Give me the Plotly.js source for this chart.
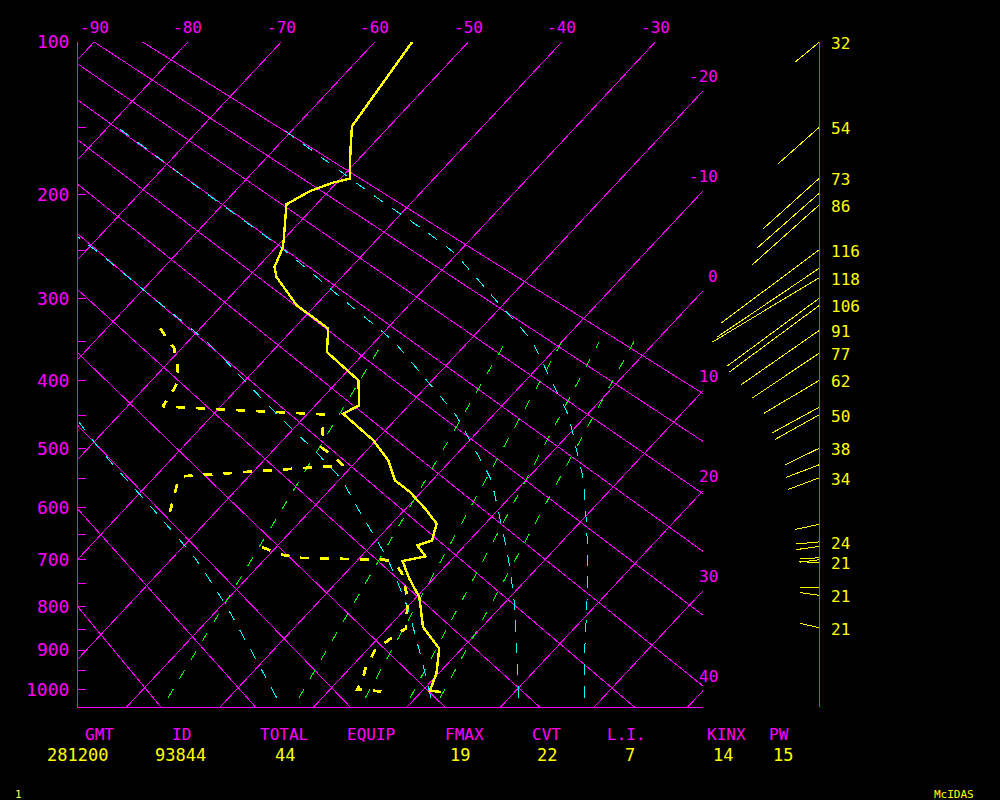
<!DOCTYPE html>
<html>
<head>
<meta charset="utf-8">
<script src="https://cdn.plot.ly/plotly-3.0.1.min.js"></script>
<style>
html,body{margin:0;padding:0;background:#000;}
#chart{width:1000px;height:800px;}
#chart svg path{shape-rendering:crispEdges !important;}
</style>
</head>
<body>
<div id="chart"></div>
<script>
// ================= DATA =================
// pressure axis ticks (hPa) and labels
const pressureTicks  = [100,150,200,250,300,350,400,450,500,550,600,650,700,750,800,850,900,950,1000];
const pressureLabels = ['100','','200','','300','','400','','500','','600','','700','','800','','900','','1000'];

// isotherms (deg C)
const isotherms = [-90,-80,-70,-60,-50,-40,-30,-20,-10,0,10,20,30,40];

// dry adiabats (potential temperature, K)
const dryAdiabatsK = [253.6,263.6,273.6,283.6,293.6,303.6,313.6,323.6,333.6,343.6,353.6,363.6];

// mixing-ratio lines (green): temperature at 1020 hPa and at 350 hPa
const mixRatioT1020 = [-16.5,-2.5,4.6,9.4,12.6];
const mixRatioT350  = [-29.1,-16.0,-10.0,-6.0,-2.3];

// saturated adiabats (cyan): temperatures at these pressures
const moistP = [1020,900,800,700,600,550,500,450,400,350,300,250,200,150];
const moistA = [28.0,23.3,19.2,14.6,9.1,6.0,2.2,-1.9,-7.3,-13.2,-21.5,-31.0,-45.0,-61.5];
const moistB = [21.0,16.0,11.5,6.1,-0.3,-3.9,-8.7,-13.9,-20.6,-28.0,-37.8,-48.8,-62.6,-78.9];
const moistC = [11.6,5.6,0.0,-6.8,-15.3,-19.9,-26.0,-32.9,-40.1,-48.0,-57.9,-69.0,-82.6,null];
const moistD = [-4.9,-12.4,-19.3,-27.3,-37.3,-42.9,-48.8,-54.7,-60.5,null,null,null,null,null];

// temperature profile
const tempP = [100,149.2,167.1,187.2,190.4,197.2,208.2,225.1,240.4,248.3,266.5,276.7,307.3,334.2,362.9,386.5,399.9,434.8,446.9,487.2,519.0,552.3,572.6,605.2,629.7,661.7,671.4,693.2,702.6,739.0,767.5,778.2,845.6,896.6,958.3,1002,1005];
const tempT = [-56.0,-54.0,-51.6,-49.0,-50.4,-52.0,-53.2,-51.4,-49.9,-49.2,-48.2,-47.0,-42.0,-36.3,-34.1,-30.1,-27.9,-25.3,-26.2,-20.3,-16.7,-14.0,-11.2,-7.6,-5.2,-4.0,-5.1,-3.1,-5.1,-2.6,-0.5,0.3,3.7,7.6,9.8,10.8,12.1];

// dewpoint profile (null = missing)
const dewP = [333.9,358.3,384.0,406.7,420.6,436.3,447.9,482.6,498.2,527.3,545.7,561.0,612.7,640,674.8,689.2,696.2,698.3,700.3,704.7,725.2,781.1,848.6,865.0,880.8,900.6,916.8,941.7,966.9,998.5,1003.8];
const dewT = [-54.3,-50.8,-48.4,-46.9,-46.5,-46.2,-28.2,-26.0,-25.1,-21.0,-37.2,-36.8,-34.7,null,-21.5,-18.9,-16.4,-12.0,-7.1,-6.0,-4.1,-0.8,2.0,1.5,1.2,0.9,1.2,1.6,2.3,2.9,5.7];

// winds
const windP   = [100,149.7,186.8,198.8,208.5,249.3,267.5,277.4,299.2,307.3,336.2,364.2,399.9,437.3,448.4,499.4,526.1,547.9,631.0,664.6,673.3,695.8,700.0,705.0,758.1,774.6,847.2];
const windSpd = [32,54,73,79,86,116,117,118,109,106,91,77,62,52,50,38,36,34,26,24,24,21,21,21,21,21,21];
const windDir = [230.5,228.4,228,228.6,228.2,233.3,236,239,233.6,233.5,235.2,236.2,239.3,241.4,240.9,244,249.1,249.4,258,265,262,266,263,271,270,278,283];
const windLabelled = [1,1,1,0,1,1,0,1,0,1,1,1,1,0,1,1,0,1,0,1,0,0,0,1,0,1,1];

// bottom statistics
const statNames  = ['GMT','ID','TOTAL','EQUIP','FMAX','CVT','L.I.','KINX','PW'];
const statValues = ['281200','93844','44','','19','22','7','14','15'];

// ================= LAYOUT CONSTANTS =================
const W=1000, H=800, ML=78, MR=100, MT=42, MB=93;
const PW = W-ML-MR, PH = H-MT-MB;
const PLOT_RIGHT = 703, WIND_AXIS = 819.5;
const KAPPA = 0.2857, SKEW = 18.69, PX_PER_DEG = 9.352;
const P_TOP = 100, P_BOT = 1045;
const pk = p => Math.pow(p, KAPPA);
const xOf = (T,p) => T - SKEW*(pk(p)-pk(P_TOP));
const X_LEFT = -91.73;
const X_RIGHT = X_LEFT + (PLOT_RIGHT-ML)/PX_PER_DEG;
const PX_PER_Y = PH/(pk(P_BOT)-pk(P_TOP));
const xp = px => (px-ML)/PW;
const yp = py => (H-MB-py)/PH;

const MAG='#ff00ff', CYAN='#00ffff', GREEN='#00ff00', YEL='#ffff00';
const FONT='DejaVu Sans Mono, monospace';

const traces = [];
function addLine(xs, ys, line, extra){
  traces.push(Object.assign({type:'scatter', mode:'lines', x:xs, y:ys, line:line, hoverinfo:'skip', showlegend:false}, extra||{}));
}

// isotherms
isotherms.forEach(T => addLine([xOf(T,P_TOP), xOf(T,P_BOT)], [pk(P_TOP), pk(P_BOT)], {color:MAG, width:1}));
// dry adiabats
dryAdiabatsK.forEach(th => {
  const tAt = p => th*pk(p)/pk(1000) - 273.15;
  addLine([xOf(tAt(P_TOP),P_TOP), xOf(tAt(P_BOT),P_BOT)], [pk(P_TOP), pk(P_BOT)], {color:MAG, width:1});
});
// mixing ratio lines
mixRatioT1020.forEach((t0,i) => addLine([xOf(t0,1020), xOf(mixRatioT350[i],350)], [pk(1020), pk(350)], {color:GREEN, width:1, dash:'10px,12px'}));
// saturated adiabats
[moistA, moistB, moistC, moistD].forEach(arr => {
  addLine(arr.map((t,i)=> t===null?null:xOf(t,moistP[i])), moistP.map(pk), {color:CYAN, width:1, dash:'11px,11px', shape:'spline', smoothing:0.6});
});
// temperature
addLine(tempT.map((t,i)=>xOf(t,tempP[i])), tempP.map(pk), {color:YEL, width:2.4});
// dewpoint
addLine(dewT.map((t,i)=> t===null?null:xOf(t,dewP[i])), dewP.map(pk), {color:YEL, width:2.8, dash:'9px,11px'}, {connectgaps:false});

// winds (length in px ~ speed)
windP.forEach((p,i) => {
  const L = 1.081*windSpd[i] - 2.7;
  const a = windDir[i]*Math.PI/180;
  const dx = L*Math.sin(a);
  const dyDown = -L*Math.cos(a);
  addLine([0, dx], [pk(p), pk(p)+dyDown/PX_PER_Y], {color:YEL, width:1}, {xaxis:'x2', yaxis:'y'});
});

// ================= ANNOTATIONS =================
const ann = [];
isotherms.forEach(T => {
  if (T >= X_LEFT && T <= X_RIGHT) {
    ann.push({xref:'x', yref:'y', x:T, y:pk(P_TOP), text:String(T), showarrow:false,
      xanchor:'center', yanchor:'middle', yshift:14.5, font:{family:FONT, size:16, color:MAG}});
  } else if (T > X_RIGHT) {
    const yc = pk(P_TOP) + (T - X_RIGHT)/SKEW;
    ann.push({xref:'x', yref:'y', x:X_RIGHT, y:yc, text:String(T), showarrow:false,
      xanchor:'right', yanchor:'middle', xshift:17, yshift:14, font:{family:FONT, size:16, color:MAG}});
  }
});
windP.forEach((p,i) => {
  if (windLabelled[i]) ann.push({xref:'x2', yref:'y', x:0, y:pk(p), text:String(windSpd[i]), showarrow:false,
    xanchor:'left', yanchor:'middle', xshift:9, yshift:-1.5, font:{family:FONT, size:16, color:YEL}});
});
const nameX  = [99, 181, 284, 371, 464, 546, 626, 726, 779];
const valueX = [77.5, 180.5, 285, 371, 460, 546.5, 629.5, 722.5, 782.5];
statNames.forEach((s,i) => ann.push({xref:'paper', yref:'paper', x:xp(nameX[i]), y:yp(735), text:s, showarrow:false,
  xanchor:'center', yanchor:'middle', font:{family:FONT, size:16, color:MAG}}));
statValues.forEach((s,i) => { if (s) ann.push({xref:'paper', yref:'paper', x:xp(valueX[i]), y:yp(754.5), text:s, showarrow:false,
  xanchor:'center', yanchor:'middle', font:{family:FONT, size:17, color:YEL}}); });
ann.push({xref:'paper', yref:'paper', x:xp(18.5), y:yp(794), text:'1', showarrow:false, xanchor:'center', yanchor:'middle', font:{family:FONT, size:11, color:'#ffff66'}});
ann.push({xref:'paper', yref:'paper', x:xp(954), y:yp(794), text:'McIDAS', showarrow:false, xanchor:'center', yanchor:'middle', font:{family:FONT, size:11, color:YEL}});

const layout = {
  width:W, height:H,
  margin:{l:ML, r:MR, t:MT, b:MB, pad:0},
  paper_bgcolor:'#000', plot_bgcolor:'#000',
  showlegend:false, hovermode:false,
  xaxis:{domain:[0, (PLOT_RIGHT-ML)/PW], range:[X_LEFT, X_RIGHT], showgrid:false, zeroline:false,
    showline:true, linecolor:MAG, linewidth:1, ticks:'', showticklabels:false, fixedrange:true},
  xaxis2:{domain:[(PLOT_RIGHT-ML)/PW, 1], range:[PLOT_RIGHT-WIND_AXIS, W-MR-WIND_AXIS], anchor:'y',
    showgrid:false, zeroline:false, showline:false, ticks:'', showticklabels:false, fixedrange:true},
  yaxis:{range:[pk(P_BOT), pk(P_TOP)], showgrid:false, zeroline:false, showline:true, linecolor:MAG, linewidth:1,
    ticks:'inside', ticklen:8, tickwidth:1, tickcolor:MAG,
    tickmode:'array', tickvals:pressureTicks.map(pk), ticktext:pressureLabels, ticklabelstandoff:4,
    tickfont:{family:FONT, size:18, color:MAG}, fixedrange:true},
  shapes:[{type:'line', xref:'x2', yref:'paper', x0:0, x1:0, y0:0, y1:1, line:{color:MAG, width:1}, layer:'above'}],
  annotations: ann
};

Plotly.newPlot('chart', traces, layout, {displayModeBar:false, staticPlot:true});
</script>
</body>
</html>
